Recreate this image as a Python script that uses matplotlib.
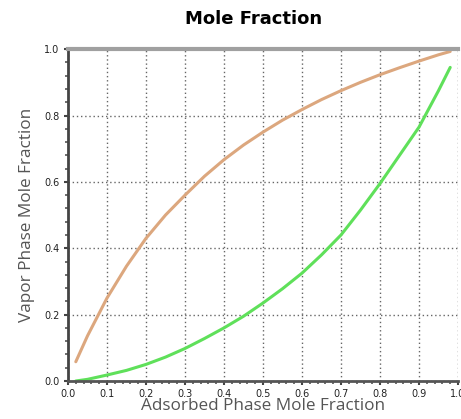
import matplotlib.pyplot as plt
from matplotlib.ticker import MultipleLocator

# adsorbed phase composition and matching vapor phase values
adsorbed = [0.02, 0.05, 0.1, 0.15, 0.2, 0.25, 0.3, 0.35, 0.4, 0.45, 0.5,
            0.55, 0.6, 0.65, 0.7, 0.75, 0.8, 0.85, 0.9, 0.95, 0.98]
vapor_upper = [0.058, 0.136, 0.25, 0.346, 0.43, 0.50, 0.56, 0.617, 0.667, 0.711, 0.75,
               0.786, 0.818, 0.848, 0.875, 0.90, 0.923, 0.944, 0.964, 0.983, 0.993]
vapor_lower = [0.0, 0.005, 0.018, 0.032, 0.05, 0.072, 0.098, 0.128, 0.16, 0.195, 0.235,
               0.278, 0.325, 0.38, 0.44, 0.515, 0.595, 0.68, 0.765, 0.875, 0.945]

x_ticks = [0.0, 0.1, 0.2, 0.3, 0.4, 0.5, 0.6, 0.7, 0.8, 0.9, 1.0]
y_ticks = [0.0, 0.2, 0.4, 0.6, 0.8, 1.0]

fig = plt.figure(figsize=(4.61, 4.19), dpi=100)
ax = fig.add_axes([0.1475, 0.0907, 0.846, 0.792])

ax.plot(adsorbed, vapor_upper, color="#dca77e", lw=2.2, solid_capstyle="round")
ax.plot(adsorbed, vapor_lower, color="#5fe05a", lw=2.2, solid_capstyle="round")

ax.set_xlim(0, 1)
ax.set_ylim(0, 1)
ax.set_xticks(x_ticks)
ax.set_yticks(y_ticks)
ax.set_xticklabels(["%.1f" % t for t in x_ticks])
ax.set_yticklabels(["%.1f" % t for t in y_ticks])
ax.xaxis.set_minor_locator(MultipleLocator(0.02))
ax.yaxis.set_minor_locator(MultipleLocator(0.04))

ax.grid(True, which="major", color="#666666", ls=(0, (1, 2)), lw=1.0)
ax.tick_params(which="major", length=3, width=1.5, color="#444444",
               labelsize=7, pad=3, labelcolor="#222222")
ax.tick_params(which="minor", length=2, width=1.2, color="#555555")

ax.spines["right"].set_visible(False)
ax.spines["top"].set_color("#a0a0a0")
ax.spines["top"].set_linewidth(3)
ax.spines["left"].set_color("#444444")
ax.spines["left"].set_linewidth(2)
ax.spines["bottom"].set_color("#555555")
ax.spines["bottom"].set_linewidth(2)

ax.set_xlabel("Adsorbed Phase Mole Fraction", fontsize=12.3, color="#555555",
              family="Open Sans", labelpad=-1)
ax.set_ylabel("Vapor Phase Mole Fraction", fontsize=12.3, color="#555555",
              family="Open Sans", labelpad=7)
fig.text(0.549, 0.955, "Mole Fraction", ha="center", va="center",
         fontsize=13, fontweight="bold", family="DejaVu Sans")

fig.savefig("out.png", dpi=100)
